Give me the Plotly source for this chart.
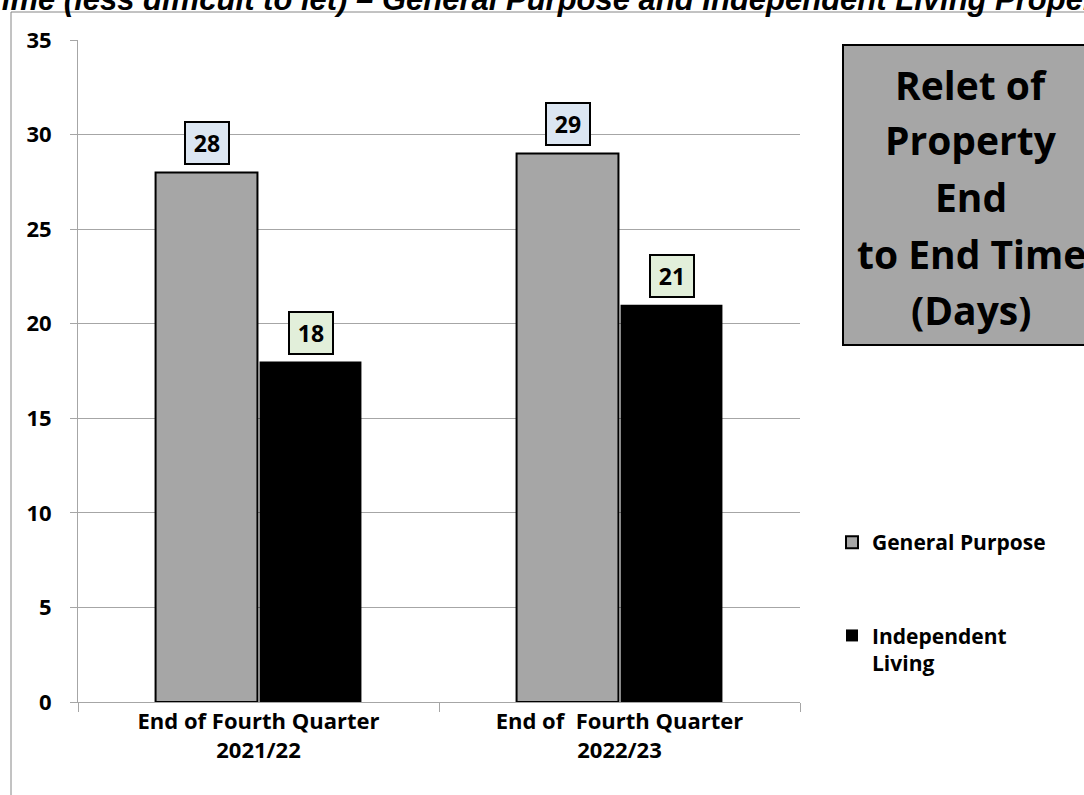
import plotly.graph_objects as go

# ---- data -------------------------------------------------------------
categories = ["End of Fourth Quarter<br>2021/22", "End of  Fourth Quarter<br>2022/23"]
general_purpose = [28, 29]
independent_living = [18, 21]
series_names = ["General Purpose", "Independent<br>Living"]
y_ticks = [0, 5, 10, 15, 20, 25, 30, 35]
title_lines = ["Relet of", "Property", "End", "to End Time", "(Days)"]
page_title = "Relet Time (less difficult to let) \u2013 General Purpose and Independent Living Properties"

# ---- geometry helpers (page pixels -> paper coordinates) ----------------
W, H = 1084, 795
L, R, T, B = 78, 284, 40, 93
PW, PH = W - L - R, H - T - B


def px(x):
    return (x - L) / PW


def py(y):
    return (H - B - y) / PH


FONT = "Open Sans"
GRID = "#a6a6a6"

fig = go.Figure()
fig.add_trace(go.Bar(
    x=categories, y=general_purpose, name=series_names[0], legendgroup="gp",
    marker=dict(color="#a6a6a6", line=dict(color="black", width=2)),
))
fig.add_trace(go.Bar(
    x=categories, y=independent_living, name=series_names[1], legendgroup="il",
    marker=dict(color="black", line=dict(color="black", width=0)),
))

# value boxes above each bar
label_styles = [("#dce6f2", -52, general_purpose), ("#e2efda", 52, independent_living)]
for fill, shift, values in label_styles:
    for cat, v in zip(categories, values):
        fig.add_annotation(
            x=cat, y=v, xref="x", yref="y", xshift=shift, yshift=7,
            yanchor="bottom", showarrow=False, text=str(v),
            font=dict(family=FONT, size=23, color="black", weight="bold"),
            bgcolor=fill, bordercolor="black", borderwidth=2, borderpad=0,
            width=42, height=40,
        )

# page heading (runs off the top edge)
fig.add_annotation(
    x=px(-103), y=py(19), xref="paper", yref="paper", xanchor="left", yanchor="bottom",
    showarrow=False, text="<b><i>" + page_title + "</i></b>",
    font=dict(family="Liberation Sans", size=31, color="black"),
)

# outer chart frame
fig.add_shape(type="rect", xref="paper", yref="paper",
              x0=px(11), x1=px(1100), y0=py(810), y1=py(12),
              line=dict(color="#868686", width=1), fillcolor="rgba(0,0,0,0)", layer="below")

# title box on the right
fig.add_shape(type="rect", xref="paper", yref="paper",
              x0=px(843), x1=px(1110), y0=py(345), y1=py(45),
              line=dict(color="black", width=2), fillcolor="#a6a6a6")
line_centres = [84, 140, 197, 253, 309]
for txt, yc in zip(title_lines, line_centres):
    fig.add_annotation(
        x=px(971), y=py(yc), xref="paper", yref="paper", xanchor="center", yanchor="middle",
        showarrow=False, text=txt,
        font=dict(family=FONT, size=39, color="black", weight="bold"),
    )

fig.update_layout(
    width=W, height=H,
    margin=dict(l=L, r=R, t=T, b=B),
    paper_bgcolor="white", plot_bgcolor="white",
    barmode="group", bargap=0.424, bargroupgap=0.02,
    font=dict(family=FONT, color="black"),
    showlegend=True,
    legend=dict(
        x=px(832), y=py(522), xanchor="left", yanchor="top",
        font=dict(family=FONT, size=21, color="black", weight="bold"),
        tracegroupgap=63, valign="top", traceorder="grouped",
        bgcolor="rgba(0,0,0,0)",
    ),
    xaxis=dict(
        showline=True, linecolor=GRID, linewidth=1,
        ticks="outside", tickson="boundaries", ticklen=9, tickcolor=GRID,
        tickfont=dict(family=FONT, size=22, color="black", weight="bold"),
        showgrid=False,
    ),
    yaxis=dict(
        range=[0, 35], tickvals=y_ticks, showgrid=True, gridcolor=GRID, gridwidth=1,
        showline=True, linecolor=GRID, linewidth=1, zeroline=False,
        ticks="outside", ticklen=7, tickcolor=GRID, ticklabelstandoff=14,
        tickfont=dict(family=FONT, size=22, color="black", weight="bold"),
    ),
)

fig.write_html("out.html")
